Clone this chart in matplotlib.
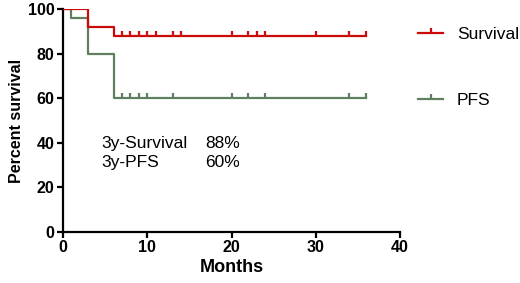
import matplotlib
matplotlib.use("Agg")
import matplotlib.pyplot as plt
from matplotlib.path import Path

plt.rcParams['font.family'] = ['Liberation Sans', 'DejaVu Sans']

# Step curves (time in months, percent)
surv_t = [0, 3, 6, 36]
surv_y = [100, 92, 88, 88]
pfs_t = [0, 1, 3, 6, 36]
pfs_y = [100, 96, 80, 60, 60]
# Censor marks
surv_cens = [7, 8, 9, 10, 11, 13, 14, 20, 22, 23, 24, 30, 34, 36]
pfs_cens = [7, 8, 9, 10, 13, 20, 22, 24, 34, 36]
surv_cens_y = [88] * len(surv_cens)
pfs_cens_y = [60] * len(pfs_cens)

xticks = [0, 10, 20, 30, 40]
yticks = [0, 20, 40, 60, 80, 100]

red = '#cc0a0a'
green = '#5f7f5f'

fig = plt.figure(figsize=(5.2, 2.83), dpi=100)
ax = fig.add_axes([63/520, 1 - 232/283, (400-63)/520, (232-9)/283])

tick_marker = Path([(0, 0), (0, 1)])

ax.step(surv_t, surv_y, where='post', color=red, lw=1.6, zorder=3)
ax.step(pfs_t, pfs_y, where='post', color=green, lw=1.6, zorder=2)
ax.plot(surv_cens, surv_cens_y, ls='none', marker=tick_marker, ms=7.5, mew=1.6,
        color=red, zorder=3)
ax.plot(pfs_cens, pfs_cens_y, ls='none', marker=tick_marker, ms=7.5, mew=1.6,
        color=green, zorder=2)

# legend handles
h1, = ax.plot([], [], color=red, lw=1.6, marker=tick_marker, ms=7.5, mew=1.6)
h2, = ax.plot([], [], color=green, lw=1.6, marker=tick_marker, ms=7.5, mew=1.6)
fig.legend([h1, h2], ['Survival', 'PFS'], loc='upper left',
           bbox_to_anchor=(418/520, 1 - 27/283), frameon=False,
           handlelength=1.44, handletextpad=0.8, labelspacing=2.9,
           prop={'size': 12.5}, borderaxespad=0, borderpad=0)

ax.set_xlim(0, 40)
ax.set_ylim(0, 100)
ax.set_xticks(xticks)
ax.set_yticks(yticks)
for s in ['top', 'right']:
    ax.spines[s].set_visible(False)
for s in ['left', 'bottom']:
    ax.spines[s].set_linewidth(1.6)
ax.tick_params(direction='out', length=4, width=1.6, labelsize=11.5, pad=2)
for lab in ax.get_xticklabels() + ax.get_yticklabels():
    lab.set_fontweight('bold')
ax.set_xlabel('Months', fontsize=13, fontweight='bold', labelpad=3)
ax.set_ylabel('Percent survival', fontsize=11.5, fontweight='bold', labelpad=3)

ax.text(4.6, 39.7, '3y-Survival', fontsize=12.5, va='center')
ax.text(21.0, 39.7, '88%', fontsize=12.5, va='center', ha='right')
ax.text(4.6, 31, '3y-PFS', fontsize=12.5, va='center')
ax.text(21.0, 31, '60%', fontsize=12.5, va='center', ha='right')

fig.savefig('out.png', dpi=100)
